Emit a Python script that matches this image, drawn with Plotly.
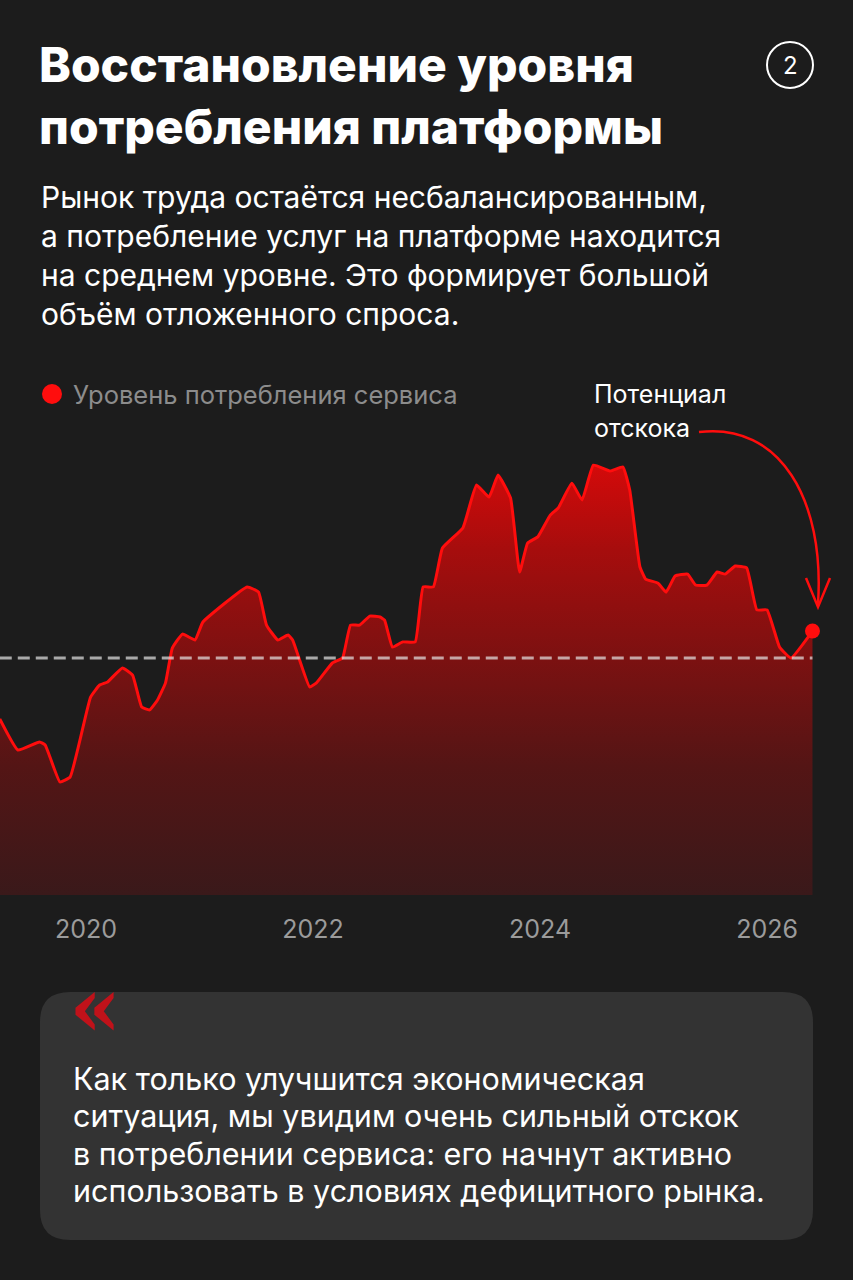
import plotly.graph_objects as go

# ---- data ----
years = [2019.24, 2019.40, 2019.59, 2019.64, 2019.77, 2019.86, 2020.04, 2020.12, 2020.19, 2020.32,
         2020.41, 2020.49, 2020.56, 2020.63, 2020.70, 2020.76, 2020.85, 2020.96, 2021.03, 2021.42,
         2021.52, 2021.59, 2021.69, 2021.78, 2021.82, 2021.97, 2022.03, 2022.17, 2022.26, 2022.33,
         2022.41, 2022.50, 2022.59, 2022.63, 2022.70, 2022.79, 2022.90, 2022.97, 2023.06, 2023.14,
         2023.32, 2023.44, 2023.55, 2023.63, 2023.74, 2023.82, 2023.89, 2023.98, 2024.09, 2024.16,
         2024.28, 2024.37, 2024.47, 2024.62, 2024.73, 2024.79, 2024.88, 2024.93, 2025.04, 2025.11,
         2025.19, 2025.30, 2025.37, 2025.47, 2025.56, 2025.63, 2025.72, 2025.82, 2025.91, 2026.00,
         2026.11, 2026.21, 2026.40]
level = [74.3, 61.2, 64.6, 63.3, 47.7, 49.8, 83.5, 88.6, 89.9, 95.8,
         92.8, 79.3, 78.1, 82.3, 89.5, 104.2, 110.1, 107.6, 115.2, 130.0,
         127.8, 113.9, 107.6, 109.7, 107.6, 87.8, 89.5, 97.9, 100.0, 113.9,
         113.9, 117.7, 117.3, 116.0, 104.6, 106.8, 106.8, 130.0, 130.0, 146.4,
         154.9, 173.0, 167.9, 177.2, 167.5, 136.3, 148.5, 151.1, 160.3, 163.3,
         173.8, 166.7, 181.4, 178.9, 180.6, 170.9, 138.4, 133.3, 131.6, 127.8,
         134.6, 135.4, 130.8, 130.8, 136.3, 135.4, 138.8, 138.0, 120.3, 120.3,
         104.6, 100.0, 111.4]
average_level = 100.0
tick_years = [2020, 2022, 2024, 2026]
tick_labels = ["2020", "2022", "2024", "2026"]

title_lines = ["Восстановление уровня", "потребления платформы"]
subtitle_lines = ["Рынок труда остаётся несбалансированным,",
                  "а потребление услуг на платформе находится",
                  "на среднем уровне. Это формирует большой",
                  "объём отложенного спроса."]
legend_text = "Уровень потребления сервиса"
callout_lines = ["Потенциал", "отскока"]
quote_lines = ["Как только улучшится экономическая",
               "ситуация, мы увидим очень сильный отскок",
               "в потреблении сервиса: его начнут активно",
               "использовать в условиях дефицитного рынка."]

# ---- layout helpers ----
W, H = 853, 1280
BG = "#1c1c1c"
RED = "#ff0d0d"
FONT = "Inter"


def px(x):
    return x / W


def py(y):
    return 1 - y / H


fig = go.Figure()

fig.add_trace(go.Scatter(
    x=years, y=level, mode="lines",
    line=dict(color=RED, width=3, shape="spline", smoothing=0.35),
    fill="tozeroy",
    fillgradient=dict(type="vertical", start=0, stop=182,
                      colorscale=[[0, "#3a191a"], [0.3, "#541515"], [0.55, "#7c1111"],
                                  [0.8, "#a60d0d"], [1, "#d40a0a"]]),
    hoverinfo="skip", showlegend=False,
))
fig.add_trace(go.Scatter(
    x=[years[-1]], y=[level[-1]], mode="markers",
    marker=dict(color=RED, size=15),
    hoverinfo="skip", showlegend=False,
))

shapes = []
# average dashed line
shapes.append(dict(type="line", xref="x", yref="y", x0=years[0], x1=years[-1],
                   y0=average_level, y1=average_level,
                   line=dict(color="rgba(230,230,230,0.7)", width=3, dash="12px,6px"),
                   layer="above"))
# numbered circle
shapes.append(dict(type="circle", xref="paper", yref="paper",
                   x0=px(767), x1=px(813), y0=py(88), y1=py(42),
                   line=dict(color="white", width=2)))
# legend dot
shapes.append(dict(type="circle", xref="paper", yref="paper",
                   x0=px(42), x1=px(62), y0=py(404), y1=py(384),
                   fillcolor=RED, line=dict(width=0)))
# curved arrow
pts = [(699, 432), (780, 422), (825, 500), (818, 604)]
path = "M {},{} C {},{} {},{} {},{}".format(
    px(pts[0][0]), py(pts[0][1]), px(pts[1][0]), py(pts[1][1]),
    px(pts[2][0]), py(pts[2][1]), px(pts[3][0]), py(pts[3][1]))
shapes.append(dict(type="path", xref="paper", yref="paper", path=path,
                   line=dict(color=RED, width=2.5)))
head = "M {},{} L {},{} L {},{}".format(px(806), py(578), px(818), py(607), px(830), py(578))
shapes.append(dict(type="path", xref="paper", yref="paper", path=head,
                   line=dict(color=RED, width=2.5)))
# rounded box
x0b, x1b, y0b, y1b, r = 40, 813, 992, 1240, 30
box = ("M {},{} L {},{} Q {},{} {},{} L {},{} Q {},{} {},{} L {},{} Q {},{} {},{} "
       "L {},{} Q {},{} {},{} Z").format(
    px(x0b + r), py(y0b), px(x1b - r), py(y0b), px(x1b), py(y0b), px(x1b), py(y0b + r),
    px(x1b), py(y1b - r), px(x1b), py(y1b), px(x1b - r), py(y1b),
    px(x0b + r), py(y1b), px(x0b), py(y1b), px(x0b), py(y1b - r),
    px(x0b), py(y0b + r), px(x0b), py(y0b), px(x0b + r), py(y0b))
shapes.append(dict(type="path", xref="paper", yref="paper", path=box,
                   fillcolor="#333333", line=dict(width=0), layer="below"))

ann = []


def text(x, y, s, size, color="white", weight=400, family=FONT, xanchor="left"):
    ann.append(dict(x=px(x), y=py(y), xref="paper", yref="paper", text=s, showarrow=False,
                    xanchor=xanchor, yanchor="middle", align="left",
                    font=dict(family=family, size=size, color=color, weight=weight)))


text(37, 95, "<br>".join(title_lines), 48, weight=800)
text(790, 65, "2", 24, xanchor="center")
for i, s in enumerate(subtitle_lines):
    text(39, 197 + i * 39, s, 30)
text(71, 394, legend_text, 25.5, color="#8c8c8c")
text(592, 394, callout_lines[0], 25)
text(592, 428, callout_lines[1], 25)
text(67, 1006, "«", 84, color="#c0121a", weight=700, family="DejaVu Serif")
for i, s in enumerate(quote_lines):
    text(71, 1078 + i * 37.5, s, 30.5)

fig.update_layout(
    width=W, height=H, autosize=False,
    margin=dict(l=0, r=0, t=0, b=0),
    paper_bgcolor=BG, plot_bgcolor=BG,
    shapes=shapes, annotations=ann,
    xaxis=dict(domain=[0, 1], range=[2019.242, 2026.757], showgrid=False, zeroline=False,
               showline=False, tickvals=tick_years, ticktext=tick_labels,
               tickfont=dict(family=FONT, size=25, color="#9b9b9b"),
               ticks="", ticklabelstandoff=17, fixedrange=True),
    yaxis=dict(domain=[py(895), py(440)], range=[0, 192], visible=False, fixedrange=True),
)

fig.write_html("out.html", config={"displayModeBar": False},
               post_script="document.body.style.margin='0';document.body.style.background='#1c1c1c';")
